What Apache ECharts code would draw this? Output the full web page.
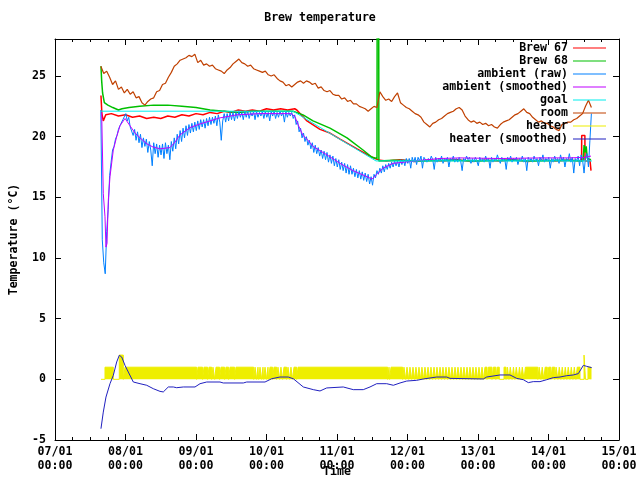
<!DOCTYPE html>
<html><head><meta charset="utf-8">
<script src="https://cdn.jsdelivr.net/npm/echarts@6/dist/echarts.min.js"></script>
<style>html,body{margin:0;padding:0;background:#fff}#c{width:640px;height:480px}</style>
</head><body><div id="c"></div>
<script>
// ---------- text ----------
const chartTitle = 'Brew temperature';
const xName = 'Time';
const yName = 'Temperature (°C)';
const seriesNames = ['Brew 67','Brew 68','ambient (raw)','ambient (smoothed)','goal','room','heater','heater (smoothed)'];
const seriesColors = ['#ff0000','#00c000','#0080ff','#c000ff','#00eeee','#c04000','#eeee00','#2020c0'];
// x values are day-of-month (month 01)
const xMin = 7, xMax = 15, xStep = 1;
const yMin = -5, yMax = 28.05, yStep = 5;

// ---------- Brew 67 [day, °C] ----------
const brew67 = [[7.652,23.4],[7.665,21.9],[7.685,21.3],[7.72,21.8],[7.8,21.9],[7.9,21.7],[8.0,21.8],[8.1,21.6],[8.2,21.7],[8.3,21.5],[8.4,21.6],[8.5,21.5],[8.6,21.7],[8.7,21.6],[8.8,21.8],[8.9,21.7],[9.0,21.9],[9.1,21.8],[9.2,22.0],[9.3,21.9],[9.4,22.1],[9.5,22.0],[9.6,22.2],[9.7,22.1],[9.8,22.2],[9.9,22.1],[10.0,22.3],[10.1,22.2],[10.2,22.3],[10.3,22.2],[10.4,22.3],[10.43,22.2],[10.574,21.3],[10.759,20.6],[10.9,20.3],[11.043,19.8],[11.284,19.0],[11.468,18.4],[11.539,18.2],[11.61,18.05],[11.7,18.0],[11.9,18.1],[12.1,17.95],[12.3,18.05],[12.5,18.0],[12.7,18.1],[12.9,17.95],[13.1,18.05],[13.3,18.0],[13.5,18.1],[13.7,17.95],[13.9,18.05],[14.1,18.0],[14.3,18.05],[14.469,18.0],[14.471,20.1],[14.516,20.1],[14.518,18.0],[14.589,18.0],[14.603,17.2]];

// ---------- Brew 68 [day, °C] ----------
const brew68 = [[7.652,25.8],[7.662,24.6],[7.675,23.6],[7.70,22.8],[7.75,22.6],[7.82,22.4],[7.9,22.2],[7.95,22.3],[8.05,22.4],[8.2,22.5],[8.4,22.6],[8.6,22.6],[8.8,22.5],[9.0,22.4],[9.2,22.2],[9.4,22.1],[9.6,22.0],[9.8,22.1],[10.0,22.1],[10.2,22.1],[10.376,22.1],[10.518,21.8],[10.66,21.3],[10.9,20.7],[11.142,19.9],[11.369,18.9],[11.496,18.3],[11.567,18.2],[11.578,18.1],[11.582,85],[11.590,85],[11.594,18.0],[11.8,18.05],[12.2,18.0],[12.6,18.05],[13.0,18.0],[13.4,18.05],[13.8,18.0],[14.2,18.05],[14.49,18.0],[14.505,19.3],[14.52,18.7],[14.535,19.2],[14.55,18.2],[14.603,18.1]];

// ---------- ambient (raw): readings every 30 min from day 7.65 ----------
const rawStart = 7.65, rawStepHours = 0.5;
const ambientRaw = [
22.2,11.5,9.6,8.7,12.2,14.0,16.8,17.9,18.9,19.2,19.8,20.1,20.6,20.9,21.0,21.4,21.5,21.9,21.3,21.6,20.8,
20.9,20.1,20.6,19.7,20.4,19.5,20.2,19.1,19.9,19.2,
19.8,18.7,19.6,18.9,17.6,19.5,18.6,19.4,18.3,19.3,
18.5,19.4,18.2,19.5,18.6,19.3,18.1,19.6,18.8,19.9,
19.0,20.2,19.4,20.5,19.6,20.7,19.9,20.9,20.1,21.0,
20.3,21.1,20.4,21.2,20.5,21.3,20.6,21.4,20.8,21.4,
20.7,21.5,20.9,21.6,21.0,21.6,21.1,21.7,20.9,21.8,
21.2,19.7,21.3,21.9,21.2,21.9,21.3,22.0,21.4,22.0,
21.3,22.0,21.5,22.1,21.6,22.0,21.4,22.1,21.6,22.1,
21.5,22.0,21.7,22.1,21.4,22.1,21.6,22.0,21.7,22.1,
21.5,22.1,21.6,22.0,21.3,22.1,21.7,22.1,21.5,22.0,
21.6,22.1,21.7,22.0,21.2,22.1,21.6,22.0,21.7,22.0,
21.5,21.8,21.0,21.3,20.4,20.7,19.9,20.3,19.6,20.0,
19.3,19.7,19.0,19.5,18.7,19.3,18.6,19.1,18.4,18.9,
18.2,18.8,18.1,18.7,17.9,18.5,17.8,18.4,17.6,18.2,
17.5,18.1,17.3,17.9,17.2,17.8,17.0,17.7,16.9,17.6,
16.9,17.4,16.7,17.3,16.6,17.2,16.5,17.1,16.4,17.0,
16.3,16.9,16.1,16.7,16.0,16.9,16.6,17.2,16.9,17.4,
17.0,17.6,17.1,17.7,17.3,17.8,17.4,17.9,17.5,18.0,
17.6,18.0,17.5,18.1,17.7,18.1,17.6,18.2,17.8,18.2,
17.4,18.3,17.9,18.3,17.7,18.3,18.0,18.4,17.4,18.3,
18.3,17.9,18.2,18.0,18.4,18.1,17.3,18.3,17.9,18.2,18.0,18.4,17.8,18.2,18.0,18.3,17.5,18.2,18.0,18.4,
17.9,18.2,17.9,18.3,18.0,17.2,18.2,18.0,18.4,18.1,18.3,17.8,18.2,17.9,18.3,18.0,17.6,18.3,18.0,18.2,
17.9,18.4,18.0,18.2,17.4,18.3,17.9,18.2,18.0,18.5,18.1,17.8,18.3,18.0,18.2,17.3,18.3,18.0,18.4,17.9,
18.2,18.0,18.3,17.7,18.2,18.0,18.4,17.9,18.2,17.2,18.3,18.0,18.2,17.9,18.4,18.0,18.2,17.6,18.3,18.0,
18.5,17.9,18.2,18.0,18.3,17.4,18.2,17.9,18.4,18.0,18.2,17.8,18.5,18.0,18.3,17.5,18.2,18.0,18.6,17.9,
18.3,17.0,18.2,18.0,18.4,17.6,18.5,18.1,17.0,
18.3,18.6,17.5,19.7,21.9];

// ---------- ambient (smoothed) [day, °C] ----------
const ambientSmooth = [[7.662,22.0],[7.685,15.3],[7.709,13.4],[7.723,10.9],[7.738,11.2],[7.756,14.75],[7.780,16.7],[7.827,18.9],[7.875,20.0],[7.922,20.9],[7.969,21.3],[7.993,21.5],[8.021,21.4],[8.064,20.9],[8.135,20.3],[8.206,19.9],[8.305,19.4],[8.390,19.15],[8.489,19.0],[8.631,19.1],[8.702,19.55],[8.773,20.15],[8.915,20.75],[9.057,21.05],[9.199,21.3],[9.340,21.55],[9.582,21.8],[9.908,21.9],[10.348,21.9],[10.404,21.65],[10.447,21.0],[10.518,20.1],[10.574,19.8],[10.66,19.2],[10.858,18.5],[11.043,17.8],[11.227,17.2],[11.426,16.7],[11.496,16.5],[11.567,16.9],[11.652,17.4],[11.794,17.8],[12.035,17.95],[12.177,18.05],[12.461,18.2],[12.745,18.25],[13.312,18.2],[13.879,18.25],[14.305,18.25],[14.518,18.3],[14.603,18.4]];

// ---------- goal [day, °C] ----------
const goal = [[7.652,22.1],[10.376,22.1],[11.553,18.0],[14.617,18.0]];

// ---------- room: readings every hour from day 7.65 ----------
const roomStart = 7.65, roomStepHours = 1;
const room = [
25.8,25.2,25.4,24.9,24.3,24.6,23.9,24.1,23.6,23.9,23.5,23.7,23.2,23.3,22.8,22.6,22.9,23.1,23.2,23.7,
23.8,24.3,24.4,24.9,25.3,25.8,26.0,26.3,26.4,26.5,26.7,26.6,26.8,26.1,26.3,25.9,26.0,25.8,25.9,25.6,
25.5,25.4,25.2,25.5,25.7,26.0,26.2,26.4,26.1,26.0,25.8,25.9,25.6,25.5,25.4,25.3,25.4,25.1,25.0,25.1,
24.8,24.6,24.5,24.2,24.3,24.1,24.3,24.5,24.6,24.4,24.6,24.5,24.3,24.4,24.0,24.1,23.8,23.7,23.8,23.5,
23.4,23.4,23.1,23.2,22.9,23.0,22.7,22.7,22.5,22.4,22.3,22.1,22.3,22.5,22.4,23.7,23.3,23.0,23.1,22.9,
23.3,23.6,22.8,22.6,22.4,22.3,22.1,21.9,21.8,21.6,21.2,21.0,20.8,21.1,21.2,21.4,21.5,21.7,21.9,22.0,
22.1,22.3,22.4,22.2,21.7,21.4,21.2,21.3,21.1,21.2,21.0,21.1,20.9,21.0,20.8,20.7,21.0,21.2,21.3,21.4,
21.6,21.8,21.9,22.1,22.3,22.0,21.9,21.6,21.4,21.2,21.3,21.1,21.1,20.9,20.8,20.6,20.5,21.0,21.1,21.2,
21.2,21.4,21.5,21.7,21.9,22.5,23.0,22.4];

// ---------- heater: [start, end, level] blocks and off-gaps inside them ----------
const heaterFrom = 7.652, heaterTo = 14.603;
const heaterBlocks = [[7.709,7.827,1],[7.912,7.969,2],[7.993,14.447,1],[14.504,14.525,2],[14.560,14.603,1]];
const heaterGaps = [
[9.008,9.028],[9.093,9.113],[9.164,9.184],[9.221,9.241],[9.264,9.284],[9.334,9.354],[9.405,9.425],[9.462,9.482],[9.547,9.567],
[9.818,9.838],[9.859,9.879],[9.888,9.908],[9.930,9.950],[9.959,9.979],[10.001,10.021],[10.029,10.049],[10.086,10.106],[10.143,10.163],[10.185,10.205],[10.228,10.248],[10.285,10.305],[10.327,10.347],[10.370,10.390],[10.427,10.447],
[11.718,11.738],[11.746,11.766],
[11.930,11.950],[11.973,11.993],[12.015,12.035],[12.058,12.078],[12.100,12.120],[12.143,12.163],[12.185,12.205],[12.228,12.248],[12.271,12.291],[12.313,12.333],[12.356,12.376],[12.398,12.418],[12.441,12.461],[12.483,12.503],[12.526,12.546],[12.568,12.588],[12.611,12.631],[12.654,12.674],[12.696,12.716],[12.739,12.759],[12.781,12.801],[12.824,12.844],[12.866,12.886],[12.909,12.929],[12.951,12.971],[12.994,13.014],[13.037,13.057],[13.079,13.099],
[13.128,13.148],[13.198,13.218],[13.253,13.273],[13.302,13.369],
[13.398,13.418],[13.438,13.458],[13.483,13.503],[13.523,13.543],[13.568,13.588],[13.608,13.628],[13.653,13.673],
[13.848,13.868],[13.891,13.911],[13.933,13.953],[13.983,14.003],[14.033,14.053],[14.088,14.108],[14.133,14.153],[14.175,14.195],[14.218,14.238],[14.260,14.280],[14.303,14.323],[14.346,14.366],[14.388,14.408]];

// ---------- heater (smoothed) [day, value] ----------
const heaterSmooth = [[7.652,-4.07],[7.685,-2.7],[7.723,-1.46],[7.780,-0.36],[7.827,0.33],[7.875,1.43],[7.912,1.98],[7.946,1.84],[7.993,1.15],[8.040,0.6],[8.111,-0.22],[8.206,-0.36],[8.301,-0.49],[8.394,-0.77],[8.489,-0.99],[8.536,-1.04],[8.607,-0.63],[8.678,-0.63],[8.726,-0.69],[8.820,-0.63],[8.986,-0.63],[9.057,-0.36],[9.152,-0.22],[9.340,-0.22],[9.387,-0.3],[9.671,-0.3],[9.719,-0.22],[9.979,-0.22],[10.074,0.05],[10.191,0.19],[10.309,0.19],[10.380,0.05],[10.522,-0.63],[10.664,-0.85],[10.759,-0.96],[10.854,-0.71],[11.089,-0.63],[11.231,-0.85],[11.373,-0.85],[11.468,-0.63],[11.563,-0.36],[11.705,-0.36],[11.799,-0.49],[11.894,-0.3],[11.989,-0.14],[12.131,-0.08],[12.224,0.03],[12.414,0.19],[12.556,0.19],[12.603,0.08],[13.075,0.03],[13.123,0.19],[13.312,0.36],[13.454,0.36],[13.549,0.08],[13.643,-0.03],[13.714,-0.27],[13.784,-0.19],[13.879,-0.19],[13.974,-0.03],[14.068,0.14],[14.163,0.19],[14.258,0.3],[14.352,0.36],[14.423,0.47],[14.494,1.15],[14.542,1.07],[14.613,0.96]];

// ---------- build ----------
const rawData = ambientRaw.map((v,i)=>[rawStart + i*rawStepHours/24, v]);
const roomData = room.map((v,i)=>[roomStart + i*roomStepHours/24, v]);
const heaterData = [[heaterFrom,0]];
heaterBlocks.forEach(([s,e,lvl])=>{
  let cur = s;
  heaterGaps.filter(g=>g[0]>=s && g[1]<=e).forEach(g=>{
    heaterData.push([cur,lvl]); heaterData.push([g[0],0]); cur = g[1];
  });
  heaterData.push([cur,lvl]); heaterData.push([e,0]);
});
heaterData.push([heaterTo,0]);

const FONT = 'DejaVu Sans Mono';
const txt = {fontFamily: FONT, fontWeight: 'bold', fontSize: 11.6, color: '#000'};
const pad = n => (n<10?'0':'')+n;

const dataSets = [brew67, brew68, rawData, ambientSmooth, goal, roomData, heaterData, heaterSmooth];
const series = dataSets.map((d,k)=>{
  const s = {
    name: seriesNames[k], type: 'line', data: d, symbol: 'none', showSymbol: false,
    lineStyle: {color: seriesColors[k], width: (k<2?1.5:(k===5?1.2:1))}, itemStyle: {color: seriesColors[k]},
    animation: false, silent: true, clip: true,
    xAxisIndex: 0, yAxisIndex: 0
  };
  if (k === 6) { s.step = 'end'; s.areaStyle = {color: seriesColors[k], opacity: 1}; }
  return s;
});

const axisCommon = {
  axisLine: {show: true, onZero: false, lineStyle: {color: '#000', width: 1}},
  axisTick: {show: true, inside: true, length: 6, lineStyle: {color: '#000'}},
  splitLine: {show: false}
};

const option = {
  backgroundColor: '#fff',
  animation: false,
  title: {text: chartTitle, left: 'center', top: 11, padding: 0, textStyle: Object.assign({}, txt, {lineHeight: 14})},
  legend: {
    orient: 'vertical', right: 34, top: 41.5, align: 'right', itemGap: 0, itemWidth: 33, itemHeight: 13,
    padding: 0, selectedMode: false, icon: 'path://M0 0H33V1H0Z', symbolKeepAspect: true,
    textStyle: Object.assign({}, txt, {lineHeight: 13}),
    data: seriesNames
  },
  grid: {left: 55, right: 21, top: 39, bottom: 40, containLabel: false, outerBoundsMode: 'none'},
  xAxis: [
    Object.assign({}, axisCommon, {
      type: 'value', position: 'bottom', min: xMin, max: xMax, interval: xStep,
      minorTick: {show: true, splitNumber: 4, length: 3, lineStyle: {color: '#000'}},
      axisLabel: Object.assign({}, txt, {margin: 5, lineHeight: 14, formatter: v => pad(Math.round(v)) + '/01\n00:00'}),
      name: xName, nameLocation: 'middle', nameGap: 26, nameMoveOverlap: false,
      nameTextStyle: Object.assign({}, txt)
    }),
    Object.assign({}, axisCommon, {
      type: 'value', position: 'top', min: xMin, max: xMax, interval: xStep,
      minorTick: {show: true, splitNumber: 4, length: 3, lineStyle: {color: '#000'}},
      axisLabel: {show: false}
    })
  ],
  yAxis: [
    Object.assign({}, axisCommon, {
      type: 'value', position: 'left', min: yMin, max: yMax, interval: yStep,
      axisLabel: Object.assign({}, txt, {margin: 9, showMaxLabel: false}),
      name: yName, nameLocation: 'middle', nameGap: 35, nameMoveOverlap: false,
      nameTextStyle: Object.assign({}, txt)
    }),
    Object.assign({}, axisCommon, {
      type: 'value', position: 'right', min: yMin, max: yMax, interval: yStep,
      axisLabel: {show: false}
    })
  ],
  series: series
};

const chart = echarts.init(document.getElementById('c'), null, {renderer: 'canvas'});
chart.setOption(option);
</script>
</body></html>
